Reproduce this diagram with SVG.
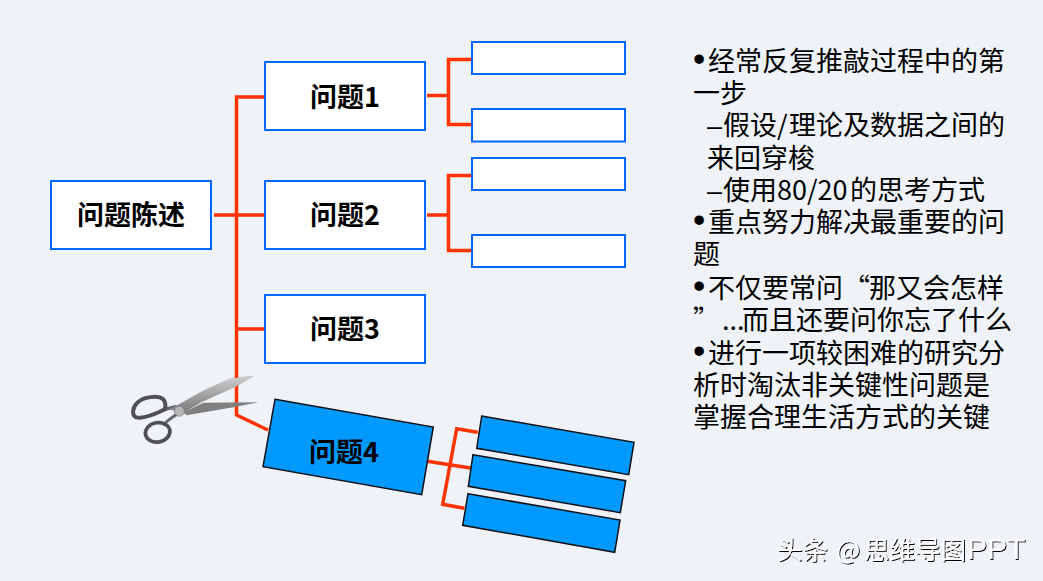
<svg xmlns="http://www.w3.org/2000/svg" width="1043" height="581" viewBox="0 0 1043 581">
<style>
.box{fill:#fff;stroke:#0066ff;stroke-width:2}
.rot{fill:#0099ff;stroke:#111;stroke-width:1.500}
.c{fill:none;stroke:#ff3300;stroke-width:3.500;stroke-linejoin:miter}
.t{font-family:"Noto Sans CJK SC","Noto Sans",sans-serif;font-weight:700;font-size:27px;fill:#000;text-anchor:middle}
.b{font-family:"Noto Sans CJK SC","Noto Sans",sans-serif;font-size:27px;fill:#000}
.d{font-family:"Liberation Sans",sans-serif;font-size:35px}
.e{font-family:"Liberation Sans",sans-serif}
.p{font-family:"Liberation Sans",sans-serif;font-size:30px}
.w{font-family:"Noto Sans CJK SC","Noto Sans",sans-serif;font-size:25.500px;fill:#fff;filter:url(#sh)}
</style>
<defs><filter id="sh" x="-5%" y="-20%" width="110%" height="140%"><feDropShadow dx="1" dy="1" stdDeviation="0.450" flood-color="#000"/></filter>
<linearGradient id="bl" x1="0" y1="0" x2="0" y2="1"><stop offset="0" stop-color="#cfcfcf"/><stop offset="1" stop-color="#777"/></linearGradient></defs>
<rect width="1043" height="581" fill="#eff3f7"/>
<g id="connectors">
<path class="c" d="M265 97H236.500V415L268 430"/>
<path class="c" d="M214 215H265"/>
<path class="c" d="M236 329H265"/>
<path class="c" d="M427 95.500H448.500M472 59.500H448.500V124.500H472"/>
<path class="c" d="M427 215H448.500M472 175.500H448.500V250.500H472"/>
<path class="c" d="M427.500 461.300L471.700 468.300"/>
<path class="c" d="M477.700 432.300L456.700 428.700L442.700 504.300L464.300 508.300"/>
</g>
<g id="n0"><rect class="box" x="51" y="181" width="160" height="68"/><text class="t" x="131" y="225">问题陈述</text></g>
<g id="n1"><rect class="box" x="265" y="62" width="160" height="68"/><text class="t" x="345" y="107">问题1</text></g>
<g id="n2"><rect class="box" x="265" y="181" width="160" height="68"/><text class="t" x="345" y="225">问题2</text></g>
<g id="n3"><rect class="box" x="265" y="295" width="160" height="68"/><text class="t" x="345" y="339">问题3</text></g>
<g id="s1"><rect class="box" x="472" y="42" width="153" height="32"/></g>
<g id="s2"><rect class="box" x="472" y="109" width="153" height="32.500"/></g>
<g id="s3"><rect class="box" x="472" y="158" width="153" height="32"/></g>
<g id="s4"><rect class="box" x="472" y="235" width="153" height="32"/></g>
<g id="n4"><polygon class="rot" points="275,399.300 433.300,427 421.700,494.700 263,466.700"/><text class="t" x="344" y="462">问题4</text></g>
<g id="r1"><polygon class="rot" points="481.700,416 634,442.300 628.700,474.700 476.700,448.300"/></g>
<g id="r2"><polygon class="rot" points="473,454.700 625.700,480.700 620.300,512.700 468.300,486.300"/></g>
<g id="r3"><polygon class="rot" points="468,493.700 620,520 614.700,552.300 462.700,525.300"/></g>
<g id="scissors" transform="translate(120 360) scale(.33333)">
<path d="M135 148L165 140L190 150" fill="none" stroke="#666" stroke-width="10"/>
<path d="M128 195C140 185 155 172 172 162" fill="none" stroke="#666" stroke-width="9"/>
<path d="M190 158L250 128L415 127L340 142L200 166Z" fill="#808080"/>
<path d="M150 148L250 92L330 56L400 48L350 78L245 126L190 160Z" fill="url(#bl)" stroke="#999" stroke-width="1"/>
<path d="M135 148C115 158 70 178 48 172C34 165 38 140 52 128C70 110 115 105 130 118C137 126 137 138 135 148Z" fill="none" stroke="#505050" stroke-width="12"/>
<ellipse cx="113" cy="217" rx="37" ry="29" fill="none" stroke="#505050" stroke-width="11" transform="rotate(-10 113 217)"/>
<circle cx="178" cy="154" r="15" fill="#b5b5b5" stroke="#777" stroke-width="2"/>
</g>
<g id="notes" class="b">
<text x="693" y="71"><tspan class="d">•</tspan><tspan x="708">经常反复推敲过程中的第</tspan></text>
<text x="693" y="103">一步</text>
<text x="707" y="135"><tspan class="e">–</tspan><tspan x="723">假设/</tspan><tspan x="789">理论及数据之间的</tspan></text>
<text x="707" y="168">来回穿梭</text>
<text x="707" y="200"><tspan class="e">–</tspan><tspan x="723">使用80/20</tspan><tspan x="850">的思考方式</tspan></text>
<text x="693" y="232"><tspan class="d">•</tspan><tspan x="708">重点努力解决最重要的问</tspan></text>
<text x="693" y="264">题</text>
<text x="693" y="298"><tspan class="d">•</tspan><tspan x="708">不仅要常问“</tspan><tspan x="869">那又会怎样</tspan></text>
<text x="693" y="330">”<tspan x="722">...</tspan><tspan x="742">而且还要问你忘了什么</tspan></text>
<text x="693" y="363"><tspan class="d">•</tspan><tspan x="708">进行一项较困难的研究分</tspan></text>
<text x="693" y="395">析时淘汰非关键性问题是</text>
<text x="693" y="427">掌握合理生活方式的关键</text>
</g>
<text class="w" x="777" y="559">头条 <tspan x="836">@</tspan><tspan x="864">思维导图</tspan><tspan class="p" x="967">PPT</tspan></text>
</svg>
